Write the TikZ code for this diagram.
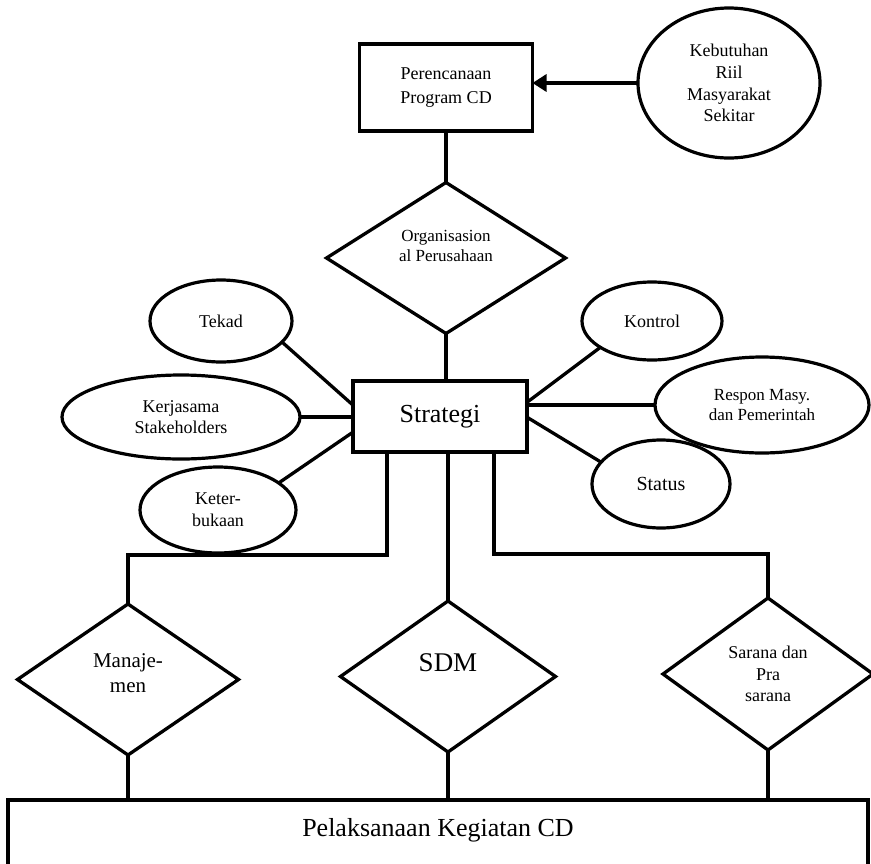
\documentclass[tikz,border=0pt]{standalone}
\usepackage{fontspec}
\setmainfont{Liberation Serif}
\usetikzlibrary{shapes.geometric,arrows.meta,calc}
\begin{document}
\begin{tikzpicture}[x=1pt,y=-1pt,
  every node/.style={inner sep=0pt,outer sep=0pt},
  ln/.style={line width=3.3pt},
  boxnode/.style={draw,line width=3.5pt,rectangle,align=center},
  ell/.style={draw,line width=3.2pt,ellipse,align=center},
  dia/.style={draw,line width=3.3pt,diamond},
  txt/.style={align=center},
  fs17/.style={font=\fontsize{17}{20}\selectfont},
  fs18/.style={font=\fontsize{18}{21.7}\selectfont},
  fs20/.style={font=\fontsize{20}{24}\selectfont},
  fs21/.style={font=\fontsize{21}{25}\selectfont},
  fs26/.style={font=\fontsize{26}{30}\selectfont},
  fs27/.style={font=\fontsize{27}{31}\selectfont}]
\useasboundingbox (0,0) rectangle (871,863);
\clip (0,0) rectangle (871,863);

% top
\node[boxnode,font=\fontsize{18}{24}\selectfont,minimum width=173pt,minimum height=87pt] (P) at (446,87.5) {Perencanaan\\Program CD};
\node[ell,fs18,minimum width=182pt,minimum height=150pt] (K) at (729,83) {Kebutuhan\\Riil\\Masyarakat\\Sekitar};
\node[dia,minimum width=239pt,minimum height=151pt] (O) at (446,258) {};
\node[txt,fs17] (Ot) at ([yshift=12pt]O.center) {Organisasion\\al Perusahaan};

% strategi
\node[boxnode,fs26,minimum width=174pt,minimum height=71pt] (S) at (440,416.5) {Strategi};

% left ellipses
\node[ell,fs18,minimum width=142pt,minimum height=82pt] (T) at (221,321) {Tekad};
\node[ell,fs18,minimum width=238pt,minimum height=84pt] (J) at (181,417) {Kerjasama\\Stakeholders};
\node[ell,fs18,minimum width=156pt,minimum height=86pt] (B) at (218,510) {Keter-\\bukaan};

% right ellipses
\node[ell,fs18,minimum width=140pt,minimum height=78pt] (C) at (652,321) {Kontrol};
\node[ell,fs17,minimum width=214pt,minimum height=96pt] (R) at (762,405) {Respon Masy.\\dan Pemerintah};
\node[ell,fs20,minimum width=138pt,minimum height=88pt] (St) at (661,484) {Status};

% bottom diamonds
\node[dia,minimum width=221pt,minimum height=151pt] (M) at (128,679.5) {};
\node[txt,fs21] (Mt) at ([yshift=6pt]M.center) {Manaje-\\men};
\node[dia,minimum width=215pt,minimum height=151pt] (D) at (448,676.5) {};
\node[txt,fs27] (Dt) at ([yshift=14pt]D.center) {SDM};
\node[dia,fs18,align=center,minimum width=210pt,minimum height=152pt] (A) at (768,674) {Sarana dan\\Pra\\sarana};

% bottom box
\node[draw,line width=3.5pt,rectangle,anchor=north west,minimum width=860pt,minimum height=110pt] (L) at (8,800) {};
\node[fs26] (Lt) at (438,830) {Pelaksanaan Kegiatan CD};

% connectors top
\draw[ln,-{Triangle[length=14pt,width=17pt]}] (K.west) -- (K.west -| P.east);
\draw[ln] (P.south) -- (O.north);
\draw[ln] (O.south) -- (O.south |- S.north);

% left connectors
\draw[ln] (T.-19) -- ($(S.north west)!0.34!(S.south west)$);
\draw[ln] (J.east) -- (J.east -| S.west);
\draw[ln] (B.24) -- ($(S.north west)!0.72!(S.south west)$);

% right connectors
\draw[ln] (C.207) -- ($(S.north east)!0.30!(S.south east)$);
\draw[ln] (R.west) -- (R.west -| S.east);
\draw[ln] (St.160) -- ($(S.north east)!0.51!(S.south east)$);

% bottom connectors
\draw[ln] ([xshift=34pt]S.south west) -- ++(0,103) -| (M.north);
\draw[ln] (D.north |- S.south) -- (D.north);
\draw[ln] ([xshift=54pt]S.south) -- ++(0,102) -| (A.north);
\draw[ln] (M.south) -- (M.south |- L.north);
\draw[ln] (D.south) -- (D.south |- L.north);
\draw[ln] (A.south) -- (A.south |- L.north);
\end{tikzpicture}
\end{document}
